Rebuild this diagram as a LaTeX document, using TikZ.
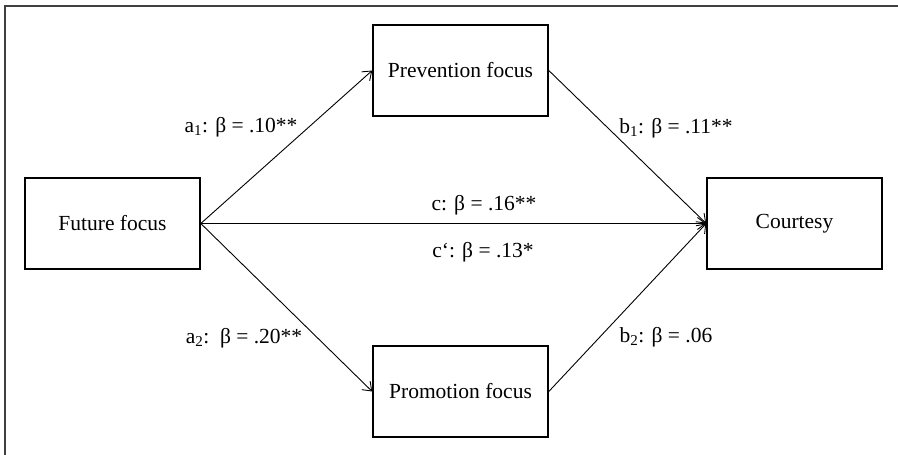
\documentclass[tikz,border=0pt]{standalone}
\usepackage{fontspec}
\setmainfont{Liberation Serif}
\usetikzlibrary{arrows.meta}
\tikzset{
  V/.style  = {draw, line width=1.6pt, minimum width=175pt, minimum height=91pt,
               font=\fontsize{21.5}{25}\selectfont},
  L/.style  = {font=\fontsize{21.5}{25}\selectfont, inner sep=0pt},
  A/.style  = {-{Straight Barb[length=8pt,width=12pt,line width=0.9pt]}, line width=0.9pt},
}

\begin{document}
\begin{tikzpicture}[x=10pt,y=-10pt]
\useasboundingbox (0,0) rectangle (89.8,45.5);

%% frame
\draw[line width=1.5pt, black!75] (0.5,45.5) -- (0.5,0.6) -- (89.8,0.6);

%% variables
\node[V] (FF) at (11.25,22.35) {Future focus};
\node[V] (PV) at (46.05,7.05)  {Prevention focus};
\node[V] (PM) at (46.05,39.15) {Promotion focus};
\node[V] (CO) at (79.45,22.35) {Courtesy};

%% paths
\draw[A] (FF.east) -- (PV.west);
\draw[A] (FF.east) -- (PM.west);
\draw[A] (FF.east) -- (CO.west);
\draw[A] (PV.east) -- (CO.west);
\draw[A] (PM.east) -- (CO.west);

%% coefficients
\node[L] (la1) at (24.1,12.7) {a\textsubscript{1}: β = .10**};
\node[L] (lb1) at (67.6,12.8) {b\textsubscript{1}: β = .11**};
\node[L] (lc)  at (48.4,20.5) {c: β = .16**};
\node[L] (lcp) at (48.3,25.2) {c‘: β = .13*};
\node[L] (la2) at (24.4,33.8) {a\textsubscript{2}:\ \ β = .20**};
\node[L] (lb2) at (66.6,33.7) {b\textsubscript{2}: β = .06};

\end{tikzpicture}
\end{document}
